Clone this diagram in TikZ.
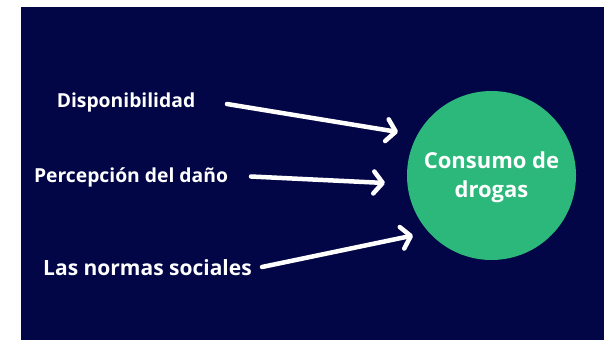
\documentclass[tikz,border=0pt]{standalone}
\usepackage{fontspec}
\setmainfont{Open Sans}
\usetikzlibrary{arrows.meta}
\definecolor{navy}{HTML}{020647}
\definecolor{circgreen}{HTML}{2CB87A}
\tikzset{
  lbl/.style={text=white, font=\fontsize{19.3}{22}\selectfont\bfseries, inner sep=0pt},
  arr/.style={draw=white, line width=4.5pt, line cap=round,
    -{Straight Barb[length=9pt,width=22pt,line width=4.5pt,round]}},
}
\begin{document}
\begin{tikzpicture}[x=1pt,y=-1pt]
\useasboundingbox (0,0) rectangle (609,340);
\fill[white] (0,0) rectangle (609,340);
\fill[navy] (21,7) rectangle (603.5,340);
\node[circle, fill=circgreen, minimum size=169pt, inner sep=0pt] (c) at (491.5,175.5) {};
\node[text=white, font=\fontsize{22}{29}\selectfont\bfseries, align=center] (ct) at (491.5,177) {Consumo de\\drogas};
\node[lbl] (d) at (126,102) {Disponibilidad};
\node[lbl] (p) at (131,177) {Percepción del daño};
\node[lbl, font=\fontsize{21}{24}\selectfont\bfseries] (s) at (147.5,268) {Las normas sociales};
\coordinate (d1) at (227,104);
\coordinate (d2) at (398,132);
\coordinate (p1) at (251,176.5);
\coordinate (p2) at (385,183);
\coordinate (s1) at (262,267);
\coordinate (s2) at (413,235.5);
\draw[arr] (d1) -- (d2);
\draw[arr] (p1) -- (p2);
\draw[arr] (s1) -- (s2);
\end{tikzpicture}
\end{document}
